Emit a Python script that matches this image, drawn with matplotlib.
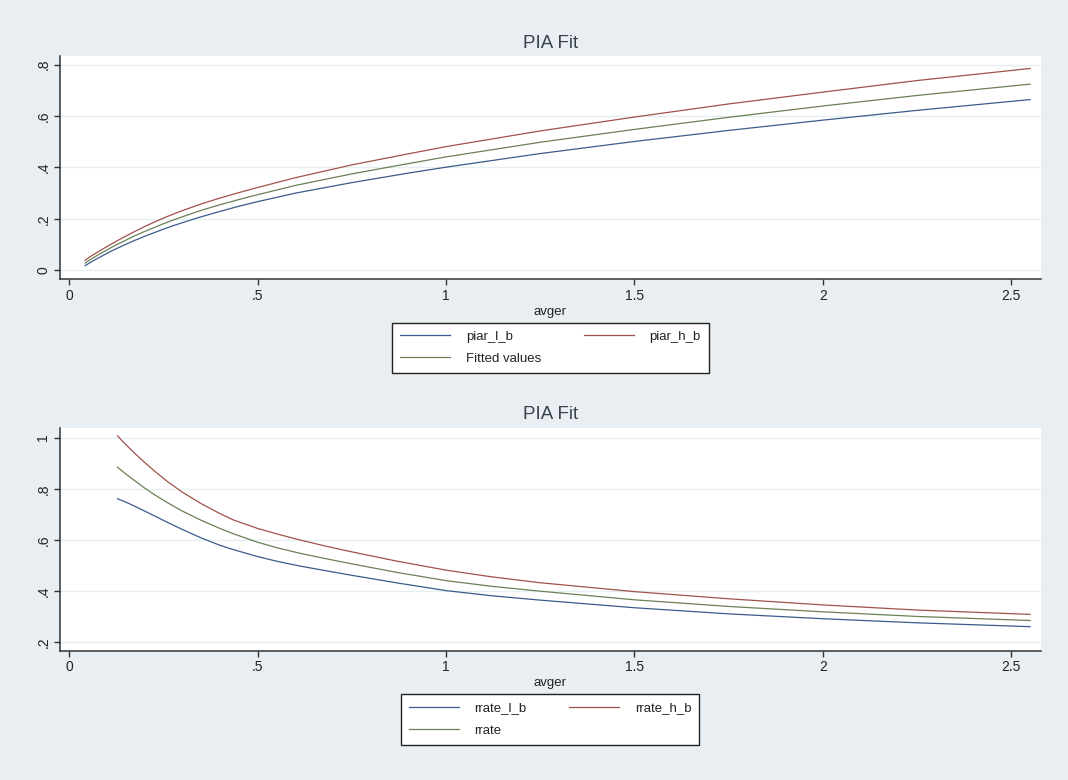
import numpy as np
import matplotlib.pyplot as plt

plt.rcParams['font.family'] = ['Liberation Sans', 'DejaVu Sans']

# top panel: PIA fit against avger
avger_top = [0.042, 0.05, 0.06, 0.07, 0.08, 0.095, 0.108, 0.125, 0.15, 0.175, 0.2,
             0.225, 0.25, 0.275, 0.3, 0.35, 0.4, 0.45, 0.5, 0.6, 0.75, 0.9, 1.0,
             1.25, 1.5, 1.75, 2.0, 2.25, 2.55]
piar_l_b = [0.018, 0.025, 0.034, 0.042, 0.050, 0.062, 0.072, 0.084, 0.101, 0.117, 0.132,
            0.146, 0.160, 0.173, 0.185, 0.208, 0.229, 0.249, 0.267, 0.300, 0.341, 0.378, 0.401,
            0.454, 0.501, 0.544, 0.584, 0.622, 0.664]
piar_h_b = [0.039, 0.047, 0.057, 0.066, 0.075, 0.088, 0.099, 0.113, 0.133, 0.152, 0.170,
            0.187, 0.203, 0.218, 0.232, 0.258, 0.281, 0.302, 0.322, 0.360, 0.410, 0.453, 0.481,
            0.542, 0.596, 0.647, 0.693, 0.738, 0.785]
fitted = [0.028, 0.036, 0.045, 0.054, 0.063, 0.075, 0.086, 0.099, 0.117, 0.135, 0.151,
          0.166, 0.181, 0.195, 0.208, 0.233, 0.255, 0.275, 0.294, 0.330, 0.375, 0.415, 0.441,
          0.498, 0.548, 0.595, 0.639, 0.680, 0.724]

# bottom panel: rates against avger
avger_bot = [0.128, 0.14, 0.15, 0.175, 0.2, 0.225, 0.259, 0.3, 0.35, 0.4, 0.436, 0.5,
             0.55, 0.612, 0.68, 0.745, 0.87, 1.0, 1.12, 1.248, 1.5, 1.75, 2.0, 2.25, 2.55]
rrate_l_b = [0.761, 0.754, 0.748, 0.731, 0.713, 0.695, 0.670, 0.641, 0.608, 0.579, 0.562, 0.535,
             0.517, 0.498, 0.480, 0.463, 0.432, 0.402, 0.382, 0.365, 0.335, 0.311, 0.292, 0.276, 0.261]
rrate_h_b = [1.007, 0.988, 0.973, 0.937, 0.903, 0.871, 0.830, 0.787, 0.742, 0.703, 0.678, 0.645,
             0.624, 0.600, 0.576, 0.555, 0.517, 0.482, 0.456, 0.433, 0.398, 0.370, 0.346, 0.326, 0.309]
rrate = [0.884, 0.870, 0.858, 0.830, 0.803, 0.778, 0.747, 0.713, 0.677, 0.645, 0.624, 0.591,
         0.570, 0.548, 0.527, 0.508, 0.473, 0.441, 0.419, 0.400, 0.366, 0.340, 0.319, 0.301, 0.285]

xticks = [0, 0.5, 1, 1.5, 2, 2.5]
xticklabels = ['0', '.5', '1', '1.5', '2', '2.5']
yticks_top = [0, 0.2, 0.4, 0.6, 0.8]
yticklabels_top = ['0', '.2', '.4', '.6', '.8']
yticks_bot = [0.2, 0.4, 0.6, 0.8, 1.0]
yticklabels_bot = ['.2', '.4', '.6', '.8', '1']

bg = '#E8EEF2'
navy = '#3B5B8C'
maroon = '#A0524A'
green = '#6B8054'
txt = '#222222'

W, H = 1068, 780
fig = plt.figure(figsize=(W / 100, H / 100), dpi=100, facecolor=bg)


def make_panel(rect, x, series, names, yticks, ylabels, ylim, legend_xy):
    ax = fig.add_axes(rect)
    ax.set_facecolor('white')
    for y, c in zip(series, [navy, maroon, green]):
        ax.plot(x, y, color=c, lw=0.9)
    ax.set_xlim(-0.0247, 2.579)
    ax.set_ylim(*ylim)
    ax.set_xticks(xticks)
    ax.set_xticklabels(xticklabels)
    ax.set_yticks(yticks)
    ax.set_yticklabels(ylabels, rotation=90, va='center')
    ax.grid(axis='y', color='#E6EEF1', lw=1.0)
    ax.set_axisbelow(True)
    for s in ['top', 'right']:
        ax.spines[s].set_visible(False)
    for s in ['left', 'bottom']:
        ax.spines[s].set_color('#333333')
        ax.spines[s].set_linewidth(1.1)
    ax.tick_params(length=4, width=1.0, color='#333333', labelsize=10,
                   labelcolor=txt, pad=3)
    ax.set_xlabel('avger', fontsize=9.5, color=txt, labelpad=2)
    ax.set_title('PIA Fit', fontsize=13.5, color='#3a4250', pad=6)
    h = ax.get_lines()
    # order so that row 1 holds low/high bound, row 2 the fitted line
    leg = fig.legend([h[0], h[2], h[1]], [names[0], names[2], names[1]],
                     ncol=2, loc='upper center',
                     bbox_to_anchor=(legend_xy[0] / W, 1 - legend_xy[1] / H),
                     bbox_transform=fig.transFigure, fontsize=9.5,
                     handlelength=3.8, handletextpad=1.2, columnspacing=3.2,
                     labelspacing=0.75, borderpad=0.6, fancybox=False,
                     framealpha=1, edgecolor='#222222', borderaxespad=0)
    leg.get_frame().set_linewidth(1.0)
    for t in leg.get_texts():
        t.set_color(txt)
    return ax


make_panel([60 / W, 1 - 279 / H, 981 / W, 223 / H], avger_top,
           [piar_l_b, piar_h_b, fitted], ['piar_l_b', 'piar_h_b', 'Fitted values'],
           yticks_top, yticklabels_top, (-0.034, 0.8335), (550.5, 322.7))
make_panel([60 / W, 1 - 650.7 / H, 981 / W, 223 / H], avger_bot,
           [rrate_l_b, rrate_h_b, rrate], ['rrate_l_b', 'rrate_h_b', 'rrate'],
           yticks_bot, yticklabels_bot, (0.167, 1.039), (550, 694.3))

fig.savefig('out.png', dpi=100, facecolor=bg)
